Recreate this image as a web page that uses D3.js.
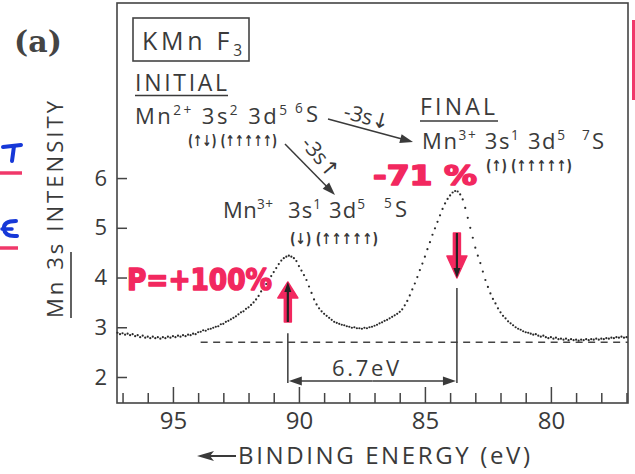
<!DOCTYPE html>
<html>
<head>
<meta charset="utf-8">
<script src="https://cdn.jsdelivr.net/npm/d3@7"></script>
<style>
  html, body { margin: 0; padding: 0; background: #fff; }
  svg { display: block; }
  text { font-family: "Open Sans", "DejaVu Sans", sans-serif; }
</style>
</head>
<body>
<svg id="chart" width="635" height="474"></svg>
<script>
// Mn 3s photoemission spectrum of KMnF3 with exchange-split final states.

// sampled binding energies: energyStart, energyStart - energyStep, ...
const energyStart = 97.2;
const energyStep = 0.1;

// measured Mn 3s intensity (arb. units), one value per sampled energy
const intensity = [
  2.89, 2.86, 2.88,
  2.85, 2.87, 2.84, 2.86, 2.82, 2.84, 2.80, 2.83, 2.79, 2.81,
  2.78, 2.81, 2.78, 2.80, 2.77, 2.80, 2.78, 2.81, 2.79, 2.82,
  2.80, 2.83, 2.81, 2.84, 2.82, 2.85, 2.84, 2.87, 2.86, 2.90,
  2.91, 2.94, 2.93, 2.96, 2.97, 2.99, 3.01, 3.02, 3.06, 3.07,
  3.11, 3.13, 3.16, 3.19, 3.22, 3.26, 3.30, 3.32, 3.37, 3.40,
  3.45, 3.50, 3.56, 3.63, 3.72, 3.79, 3.87, 3.95, 4.03, 4.11,
  4.19, 4.27, 4.34, 4.39, 4.42, 4.44, 4.42, 4.39, 4.33, 4.23,
  4.14, 4.05, 3.95, 3.82, 3.69, 3.56, 3.46, 3.38, 3.32, 3.27,
  3.23, 3.19, 3.15, 3.11, 3.09, 3.07, 3.05, 3.04, 3.02, 3.01,
  2.99, 3.00, 2.98, 2.98, 2.97, 2.99, 2.98, 3.00, 3.01, 3.03,
  3.05, 3.08, 3.10, 3.13, 3.15, 3.18, 3.21, 3.24, 3.27, 3.31,
  3.36, 3.44, 3.53, 3.64, 3.76, 3.88, 4.01, 4.15, 4.28, 4.42,
  4.57, 4.71, 4.86, 4.99, 5.12, 5.25, 5.38, 5.49, 5.58, 5.65,
  5.71, 5.74, 5.73, 5.67, 5.57, 5.40, 5.20, 5.00, 4.80, 4.60,
  4.44, 4.29, 4.12, 3.95, 3.81, 3.68, 3.57, 3.48, 3.38, 3.30,
  3.23, 3.18, 3.12, 3.08, 3.04, 3.00, 2.97, 2.95, 2.92, 2.90,
  2.89, 2.87, 2.85, 2.86, 2.83, 2.81, 2.83, 2.80, 2.78, 2.80,
  2.77, 2.79, 2.76, 2.77, 2.75, 2.77, 2.74, 2.76, 2.74, 2.75,
  2.73, 2.75, 2.74, 2.76, 2.74, 2.76, 2.75, 2.77, 2.75, 2.77,
  2.76, 2.78, 2.77, 2.79, 2.78, 2.80, 2.79, 2.81, 2.79, 2.80
];

const majorEnergyTicks = [95, 90, 85, 80];
const minorEnergyTicks = [97, 96, 94, 93, 92, 91, 89, 88, 87, 86, 84, 83, 82, 81, 79, 78, 77];
const intensityTicks = [2, 3, 4, 5, 6];

// 7S and 5S peak positions and the splitting between them
const peakEnergies = [90.44, 83.73];
const splittingLabel = "6.7eV";
// flat background under the two peaks
const backgroundLevel = 2.70;
const backgroundStart = 93.9;
// spin polarization written at each peak
const polarizationLabels = ["P=+100%", "-71 %"];

const ink = "#3a3a3a";
const pink = "#f2285f";
const svg = d3.select("#chart").attr("fill", ink);

const x = d3.scaleLinear().domain([97.22, 76.94]).range([117, 628]);
const y = d3.scaleLinear().domain([1.477, 9.52]).range([403, 3]);

const spectrum = intensity.map((v, i) => ({ e: energyStart - i * energyStep, v }));

// ---------- frame and axes ----------
svg.append("rect")
  .attr("x", x.range()[0]).attr("y", y.range()[1])
  .attr("width", x.range()[1] - x.range()[0])
  .attr("height", y.range()[0] - y.range()[1])
  .attr("fill", "none").attr("stroke", "#444").attr("stroke-width", 1.6);

function styleAxis(g, size) {
  g.select(".domain").remove();
  g.attr("font-family", null).attr("font-size", null);
  g.selectAll(".tick line").attr("stroke", "#444").attr("stroke-width", 1.5);
  g.selectAll(".tick text").attr("fill", ink).attr("font-size", size);
}

svg.append("g")
  .attr("transform", `translate(0,${y.range()[0]})`)
  .call(d3.axisBottom(x).tickValues(minorEnergyTicks).tickSize(-10).tickFormat(""))
  .call(g => styleAxis(g, 24));

svg.append("g")
  .attr("transform", `translate(0,${y.range()[0]})`)
  .call(d3.axisBottom(x).tickValues(majorEnergyTicks).tickSize(-16).tickPadding(9).tickFormat(d3.format("d")))
  .call(g => styleAxis(g, 24));

svg.append("g")
  .attr("transform", `translate(${x.range()[0]},0)`)
  .call(d3.axisLeft(y).tickValues(intensityTicks).tickSize(-10).tickPadding(10).tickFormat(d3.format("d")))
  .call(g => styleAxis(g, 22));

// ---------- rich text helper (superscripts / subscripts) ----------
function richText(px, py, parts, size, length, adjust) {
  const t = svg.append("text")
    .attr("x", px).attr("y", py)
    .attr("font-size", size);
  let offset = 0;
  parts.forEach(([str, kind]) => {
    const target = kind === 1 ? -0.42 * size : kind === -1 ? 0.22 * size : 0;
    t.append("tspan")
      .attr("dy", target - offset)
      .attr("font-size", kind ? size * 0.62 : size)
      .text(str);
    offset = target;
  });
  if (length) t.attr("textLength", length).attr("lengthAdjust", adjust || "spacing");
  return t;
}

// spin occupation, e.g. (↑↓) (↑↑↑↑↑)
function spinText(px, py, str, length) {
  return svg.append("text")
    .attr("x", px).attr("y", py)
    .attr("font-size", 15)
    .attr("font-weight", "bold")
    .style("font-family", "'DejaVu Sans', sans-serif")
    .attr("textLength", length).attr("lengthAdjust", "spacingAndGlyphs")
    .text(str);
}

// ---------- panel label and compound ----------
svg.append("text")
  .attr("x", 14).attr("y", 52)
  .attr("font-size", 30)
  .attr("font-weight", "bold")
  .style("font-family", "'DejaVu Serif', serif")
  .attr("fill", "#444")
  .text("(a)");

svg.append("rect")
  .attr("x", 133).attr("y", 18).attr("width", 116).attr("height", 43)
  .attr("fill", "none").attr("stroke", "#444").attr("stroke-width", 1.6);
richText(142, 50, [["KMn F", 0], ["3", -1]], 25, 100);

// ---------- initial state ----------
richText(135, 91, [["INITIAL", 0]], 23, 92);
svg.append("line").attr("x1", 135).attr("x2", 228).attr("y1", 95.5).attr("y2", 95.5)
  .attr("stroke", ink).attr("stroke-width", 1.6);
richText(135, 124, [["Mn", 0], ["2+", 1], [" 3s", 0], ["2", 1], [" 3d", 0], ["5", 1]], 22, 152);
richText(295, 122, [["6", 1], ["S", 0]], 22, 23);
spinText(188, 146, "(↑↓) (↑↑↑↑↑)", 89);

// ---------- final states ----------
richText(420, 115, [["FINAL", 0]], 23, 75);
svg.append("line").attr("x1", 420).attr("x2", 498).attr("y1", 121).attr("y2", 121)
  .attr("stroke", ink).attr("stroke-width", 1.6);
richText(422, 149, [["Mn", 0], ["3+", 1], ["  3s", 0], ["1", 1], ["  3d", 0], ["5", 1]], 22, 143);
richText(582, 149, [["7", 1], ["S", 0]], 22, 22);
spinText(486, 171, "(↑) (↑↑↑↑↑)", 86);

richText(223, 218, [["Mn", 0], ["3+", 1]], 22, 50);
richText(288, 218, [["3s", 0], ["1", 1], [" 3d", 0], ["5", 1]], 22, 77);
richText(384, 217, [["5", 1], ["S", 0]], 22, 23);
spinText(290, 244, "(↓) (↑↑↑↑↑)", 88);

// transition arrows
function arrowLine(x1, y1, x2, y2) {
  const a = Math.atan2(y2 - y1, x2 - x1);
  const len = 13, hw = 4.5;
  svg.append("line").attr("x1", x1).attr("y1", y1)
    .attr("x2", x2 - Math.cos(a) * len * 0.8).attr("y2", y2 - Math.sin(a) * len * 0.8)
    .attr("stroke", ink).attr("stroke-width", 1.5);
  const bx = x2 - Math.cos(a) * len, by = y2 - Math.sin(a) * len;
  svg.append("path")
    .attr("d", `M${x2},${y2}L${bx - Math.sin(a) * hw},${by + Math.cos(a) * hw}` +
               `L${bx + Math.sin(a) * hw},${by - Math.cos(a) * hw}Z`)
    .attr("fill", ink);
}
arrowLine(328, 119, 413, 142);
arrowLine(285, 144, 335, 195);

svg.append("text")
  .attr("transform", "translate(365,124) rotate(15)")
  .attr("text-anchor", "middle").attr("font-size", 21)
  .text("-3s↓");
svg.append("text")
  .attr("transform", "translate(315,162) rotate(50)")
  .attr("text-anchor", "middle").attr("font-size", 21)
  .text("-3s↑");

// ---------- spectrum ----------
svg.append("line")
  .attr("x1", x(backgroundStart)).attr("x2", x.range()[1])
  .attr("y1", y(backgroundLevel)).attr("y2", y(backgroundLevel))
  .attr("stroke", "#444").attr("stroke-width", 1.6).attr("stroke-dasharray", "7,5.5");

svg.append("g").selectAll("circle")
  .data(spectrum)
  .join("circle")
  .attr("cx", d => x(d.e))
  .attr("cy", d => y(d.v))
  .attr("r", 1.1)
  .attr("fill", "#2a2a2a");

// splitting marker
const dimLevel = 1.92;
const vlineBottom = 1.88;
svg.append("line")
  .attr("x1", x(peakEnergies[0])).attr("x2", x(peakEnergies[0]))
  .attr("y1", y(2.88)).attr("y2", y(vlineBottom))
  .attr("stroke", ink).attr("stroke-width", 1.5);
svg.append("line")
  .attr("x1", x(peakEnergies[1])).attr("x2", x(peakEnergies[1]))
  .attr("y1", y(3.79)).attr("y2", y(vlineBottom))
  .attr("stroke", ink).attr("stroke-width", 1.5);
arrowLine((x(peakEnergies[0]) + x(peakEnergies[1])) / 2, y(dimLevel), x(peakEnergies[0]) + 1, y(dimLevel));
arrowLine((x(peakEnergies[0]) + x(peakEnergies[1])) / 2, y(dimLevel), x(peakEnergies[1]) - 1, y(dimLevel));
richText(332, 376, [[splittingLabel, 0]], 22, 67);

// ---------- spin-direction arrows over the peaks ----------
function markerArrow(e, vTail, vTip, headLen) {
  const cx = x(e), t = y(vTail), p = y(vTip);
  const dir = Math.sign(p - t);
  const hb = p - dir * headLen;
  svg.append("path")
    .attr("d", `M${cx - 3.5},${t}L${cx - 3.5},${hb}L${cx - 10},${hb}L${cx},${p}` +
               `L${cx + 10},${hb}L${cx + 3.5},${hb}L${cx + 3.5},${t}Z`)
    .attr("fill", pink).attr("stroke", pink).attr("stroke-width", 1.5)
    .attr("stroke-linejoin", "round");
  svg.append("line").attr("x1", cx).attr("x2", cx)
    .attr("y1", t).attr("y2", p - dir * 6)
    .attr("stroke", "#222").attr("stroke-width", 2.2);
  svg.append("path")
    .attr("d", `M${cx},${p}L${cx - 3.5},${p - dir * 10}L${cx + 3.5},${p - dir * 10}Z`)
    .attr("fill", "#222");
}
markerArrow(peakEnergies[0], 3.106, 3.91, 16);
markerArrow(peakEnergies[1], 4.895, 3.99, 22);

function handLabel(px, py, size, length, str) {
  svg.append("text")
    .attr("x", px).attr("y", py)
    .attr("font-size", size)
    .attr("font-weight", "bold")
    .style("font-family", "'DejaVu Sans', sans-serif")
    .attr("fill", pink).attr("stroke", pink).attr("stroke-width", 1.6)
    .attr("stroke-linejoin", "round")
    .attr("textLength", length).attr("lengthAdjust", "spacingAndGlyphs")
    .text(str);
}
handLabel(127, 290, 30, 145, polarizationLabels[0]);
handLabel(373, 185, 27, 104, polarizationLabels[1]);

// ---------- axis titles ----------
const yTitle = svg.append("g").attr("transform", "translate(63,318) rotate(-90)");
yTitle.append("text").attr("x", 0).attr("y", 0).attr("font-size", 22)
  .attr("textLength", 217).attr("lengthAdjust", "spacing")
  .text("Mn 3s INTENSITY");
yTitle.append("line").attr("x1", 0).attr("x2", 66).attr("y1", 8).attr("y2", 8)
  .attr("stroke", ink).attr("stroke-width", 1.6);

// long arrow pointing to higher binding energy
svg.append("line").attr("x1", 206).attr("x2", 236).attr("y1", 456).attr("y2", 456)
  .attr("stroke", ink).attr("stroke-width", 2);
svg.append("path").attr("d", "M197,456L214,451L210,456L214,461Z").attr("fill", ink);
richText(238, 464, [["BINDING ENERGY (eV)", 0]], 24, 292);

// ---------- handwritten margin marks ----------
const blue = "#1638d8";
const markPink = "#f0386a";
svg.append("path").attr("d", "M3,147 L21,145").attr("stroke", blue).attr("stroke-width", 4)
  .attr("fill", "none").attr("stroke-linecap", "round");
svg.append("path").attr("d", "M14,146 Q13,154 12,161").attr("stroke", blue).attr("stroke-width", 4)
  .attr("fill", "none").attr("stroke-linecap", "round");
svg.append("path").attr("d", "M0,173 L22,173").attr("stroke", markPink).attr("stroke-width", 3.5);
svg.append("path").attr("d", "M16,221 Q3,221 4,229 Q5,237 17,236").attr("stroke", blue).attr("stroke-width", 4)
  .attr("fill", "none").attr("stroke-linecap", "round");
svg.append("path").attr("d", "M2,229 L12,229").attr("stroke", blue).attr("stroke-width", 3.5)
  .attr("stroke-linecap", "round");
svg.append("path").attr("d", "M0,248 L18,248").attr("stroke", markPink).attr("stroke-width", 3.5);
svg.append("rect").attr("x", 632).attr("y", 20).attr("width", 3).attr("height", 80).attr("fill", markPink);
</script>
</body>
</html>
